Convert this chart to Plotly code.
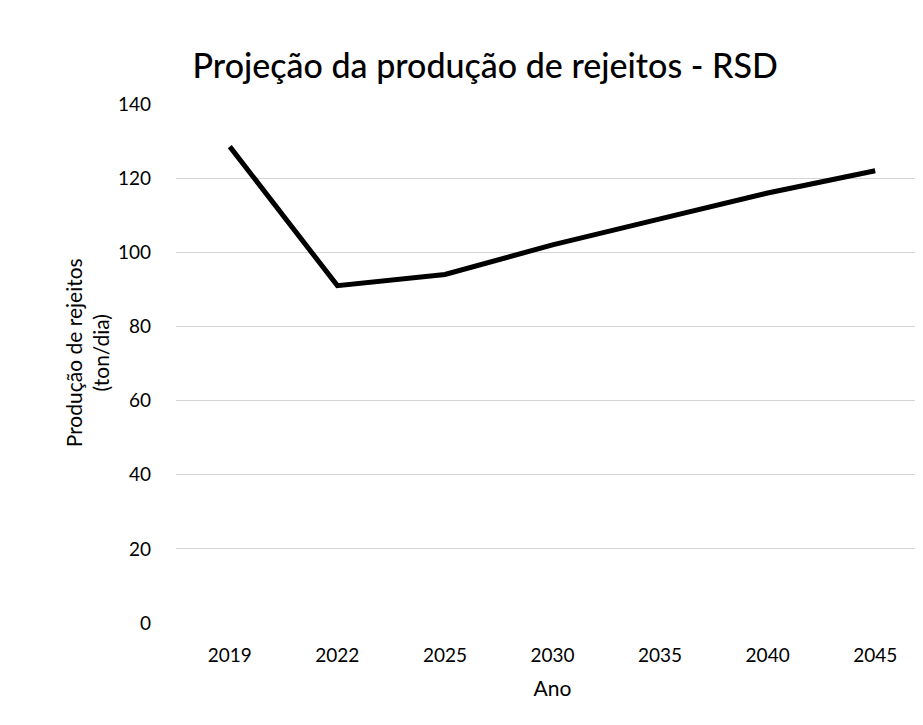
import plotly.graph_objects as go

anos = ["2019", "2022", "2025", "2030", "2035", "2040", "2045"]
producao = [128.5, 91, 94, 102, 109, 116, 122]
y_ticks = [0, 20, 40, 60, 80, 100, 120, 140]

FONT = "Lato"

fig = go.Figure()
fig.add_trace(go.Scatter(
    x=anos, y=producao, mode="lines",
    line=dict(color="black", width=5),
    showlegend=False,
))

fig.add_annotation(
    text="Produção de rejeitos<br>(ton/dia)",
    xref="paper", yref="paper", x=-0.118, y=0.52,
    xanchor="center", yanchor="middle", textangle=-90, showarrow=False,
    font=dict(family=FONT, size=21, color="black"),
)

fig.update_layout(
    width=923, height=725,
    paper_bgcolor="white", plot_bgcolor="white",
    margin=dict(l=168, r=2, t=96, b=110),
    font=dict(family=FONT, color="black", size=18),
    title=dict(
        text="Projeção da produção de rejeitos - RSD",
        x=0.517, xanchor="center", y=0.92, yanchor="middle",
        font=dict(family=FONT, size=34, color="black", weight=500),
    ),
    xaxis=dict(
        type="category", range=[-0.5, 6.5], showgrid=False, showline=False, ticks="",
        tickfont=dict(size=19), ticklabelstandoff=19,
        title=dict(text="Ano", font=dict(size=21), standoff=16),
    ),
    yaxis=dict(
        range=[0, 140], tickvals=y_ticks, showgrid=True,
        gridcolor="#d4d4d4", gridwidth=1, zeroline=False, showline=False,
        ticks="", tickfont=dict(size=19), ticklabelstandoff=24,
    ),
)

fig.write_html("out.html")
